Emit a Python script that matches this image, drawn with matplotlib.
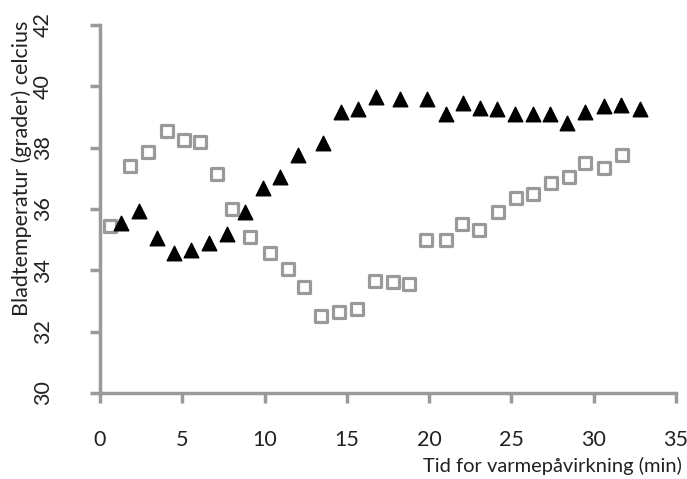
import matplotlib
matplotlib.use("Agg")
import matplotlib.pyplot as plt

plt.rcParams['font.family'] = ['Lato', 'DejaVu Sans']

# Series 1: hollow grey squares
sq_x = [0.6, 1.8, 2.9, 4.05, 5.1, 6.1, 7.1, 8.05, 9.1, 10.3, 11.4, 12.4, 13.4,
        14.5, 15.6, 16.7, 17.8, 18.8, 19.8, 21.0, 22.0, 23.0, 24.2, 25.3, 26.3,
        27.4, 28.5, 29.5, 30.6, 31.7]
sq_y = [35.45, 37.4, 37.85, 38.55, 38.25, 38.2, 37.15, 36.0, 35.1, 34.55, 34.05,
        33.45, 32.5, 32.65, 32.75, 33.65, 33.62, 33.55, 35.0, 35.0, 35.5, 35.3,
        35.9, 36.35, 36.5, 36.85, 37.05, 37.5, 37.35, 37.75]

# Series 2: filled black triangles
tri_x = [1.3, 2.4, 3.45, 4.5, 5.55, 6.65, 7.7, 8.8, 9.9, 10.95, 12.05, 13.55,
         14.65, 15.7, 16.75, 18.25, 19.85, 21.0, 22.05, 23.1, 24.1, 25.2, 26.3,
         27.35, 28.4, 29.5, 30.6, 31.65, 32.8]
tri_y = [35.55, 35.95, 35.05, 34.55, 34.65, 34.9, 35.2, 35.9, 36.7, 37.05, 37.75,
         38.15, 39.15, 39.25, 39.65, 39.6, 39.6, 39.1, 39.45, 39.3, 39.25, 39.1,
         39.1, 39.1, 38.8, 39.15, 39.35, 39.4, 39.25]

x_ticks = [0, 5, 10, 15, 20, 25, 30, 35]
y_ticks = [30, 32, 34, 36, 38, 40, 42]

fig = plt.figure(figsize=(6.87, 4.79), dpi=100)
ax = fig.add_axes([100/687, 1-393/479, 576/687, 368/479])

ax.scatter(sq_x, sq_y, marker='s', s=85, facecolors='white', edgecolors='#9a9a9a',
           linewidths=2.3, zorder=3, clip_on=False)
ax.scatter(tri_x, tri_y, marker='^', s=110, color='black', zorder=4, clip_on=False)

ax.set_xlim(0, 35)
ax.set_ylim(30, 42)
ax.set_xticks(x_ticks)
ax.set_yticks(y_ticks)
ax.set_xticklabels([str(v) for v in x_ticks])
ax.set_yticklabels([str(v) for v in y_ticks], rotation=90, va='center')

for s in ['top', 'right']:
    ax.spines[s].set_visible(False)
for s in ['left', 'bottom']:
    ax.spines[s].set_color('#9a9a9a')
    ax.spines[s].set_linewidth(2.5)

ax.tick_params(axis='both', colors='#9a9a9a', width=2.5, length=7, direction='out',
               labelcolor='#222222', labelsize=15.5)
ax.tick_params(axis='x', pad=20)
ax.tick_params(axis='y', pad=27)

ax.set_xlabel('Tid for varmepåvirkning (min)', fontsize=14.5, color='#222222')
ax.xaxis.set_label_coords(1.01, -0.175)
ax.xaxis.label.set_ha('right')

ax.set_ylabel('Bladtemperatur (grader) celcius', fontsize=15.5, color='#222222')
ax.yaxis.set_label_coords(-0.118, 0.61)

fig.savefig('out.png', dpi=100, facecolor='white')
